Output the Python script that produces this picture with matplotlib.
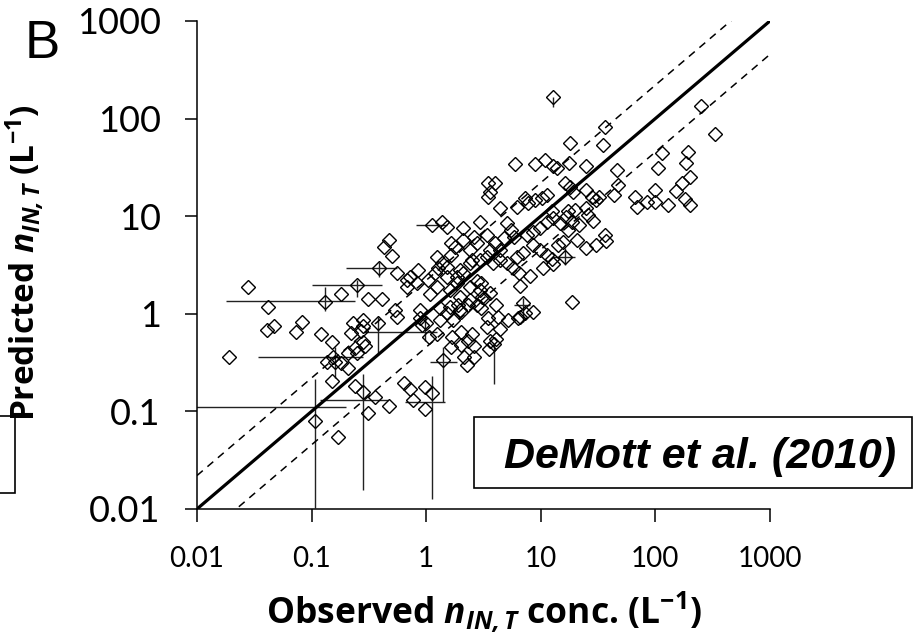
import matplotlib
matplotlib.use('Agg')
import matplotlib.pyplot as plt
import numpy as np
from matplotlib.patches import Rectangle
from matplotlib.ticker import FixedLocator, FixedFormatter, NullLocator

plt.rcParams['font.family'] = ['Lato', 'DejaVu Sans']
plt.rcParams['mathtext.fontset'] = 'custom'
plt.rcParams['mathtext.rm'] = 'Open Sans:bold'
plt.rcParams['mathtext.bf'] = 'Open Sans:bold'
plt.rcParams['mathtext.it'] = 'Open Sans:italic:bold'
plt.rcParams['mathtext.bfit'] = 'Open Sans:italic:bold'

# observed vs predicted IN number concentration (per litre)
obs = [0.019, 0.028, 0.042, 0.041, 0.047, 0.073, 0.082, 0.12, 0.15, 0.13, 0.18, 0.25,
       0.39, 0.47, 0.43, 0.50, 0.31, 0.41, 1.12, 1.37, 1.52, 0.56, 0.68, 0.85,
       0.38, 0.23, 0.28, 0.22, 0.27, 0.24, 0.29, 0.154, 0.135, 0.16, 0.15, 0.17,
       0.107, 0.28, 0.24, 0.36, 0.47, 0.31, 0.98, 1.12, 0.98, 0.77, 0.64, 0.72,
       0.92, 1.4, 0.21, 0.18, 0.28, 0.28, 0.25, 0.21, 0.53, 0.56,
       1.06, 1.24, 1.68, 1.66, 2.0, 2.0, 2.3, 2.5, 2.6, 2.15, 2.6, 2.25,
       3.9, 3.5, 3.6, 4.1, 3.4, 4.4,
       1.61, 2.0, 2.3, 3.0, 3.46, 4.2, 5.2, 6.3, 7.3, 8.5, 18.7, 0.88,
       1.0, 1.32, 1.52, 1.71, 1.97, 7.0, 6.6, 0.88, 1.32, 1.9, 2.8, 3.2,
       0.72, 0.68, 0.83, 1.04, 1.24, 1.19, 1.52, 1.52, 1.85, 1.97, 2.4, 2.95,
       3.4, 3.8, 4.4, 5.1, 5.7, 1.61, 1.97, 2.4, 2.95, 3.1, 3.6, 4.1,
       3.0, 6.5, 1.24, 1.66, 2.5, 1.26, 2.1, 2.4, 2.78, 1.85, 1.07,
       2.95, 2.1, 2.64, 3.4, 1.66, 1.37, 1.8, 2.1, 2.4, 2.78, 5.1, 5.5,
       5.9, 4.8, 4.0, 3.6, 4.4, 7.6, 8.6, 9.9, 11.3, 12.8, 14.6, 16.7,
       18.8, 21.6, 20.8, 25, 30.6, 36, 6.2, 7.0, 8.5, 9.9, 11.3, 12.5,
       14.1, 15.6, 17.2, 16.3, 10.5, 12.8, 8.0, 6.6, 37,
       5.96, 8.9, 10.9, 12.8, 13.9, 17.6, 25, 3.46, 4.0, 3.6, 3.46, 4.4,
       6.2, 7.75, 8.9, 10.2, 11.3, 16.3, 18, 19, 25, 28, 30.6, 32,
       46, 47, 44, 66, 69, 85, 99, 99, 105, 115, 12.8, 36,
       35, 18, 250, 330, 26, 28.5, 17.3, 12.5, 20, 25, 7.3,
       192, 185, 200, 170, 150, 180, 200, 130]
pred = [0.36, 1.88, 1.17, 0.68, 0.75, 0.65, 0.82, 0.62, 0.51, 1.32, 1.6, 1.97,
        2.95, 5.7, 4.8, 3.9, 1.42, 1.42, 8.1, 8.7, 7.7, 2.6, 2.2, 2.8,
        0.80, 0.80, 0.86, 0.63, 0.66, 0.45, 0.47, 0.36, 0.32, 0.32, 0.205, 0.055,
        0.080, 0.158, 0.18, 0.14, 0.114, 0.096, 0.178, 0.154, 0.105, 0.13, 0.195, 0.17,
        0.77, 0.34, 0.28, 0.31, 0.75, 0.51, 0.40, 0.40, 1.10, 0.92,
        0.58, 0.62, 0.58, 0.46, 0.65, 0.48, 0.53, 0.62, 0.47, 0.36, 0.36, 0.30,
        0.49, 0.44, 0.52, 0.55, 0.74, 0.70,
        1.17, 1.04, 1.23, 1.15, 0.90, 0.93, 0.86, 0.90, 1.02, 1.04, 1.32, 1.09,
        0.80, 0.86, 1.02, 0.86, 1.09, 1.29, 0.93, 0.90, 1.15, 1.22, 1.22, 1.45,
        2.4, 1.88, 2.07, 2.22, 1.88, 2.6, 3.0, 2.4, 2.4, 2.8, 3.3, 3.56,
        3.8, 3.3, 3.56, 3.3, 2.95, 1.75, 1.48, 1.38, 1.75, 1.48, 1.63, 1.22,
        2.07, 2.6, 3.8, 4.0, 3.56, 2.95, 2.6, 1.88, 2.15, 2.07, 1.6,
        8.7, 7.6, 6.1, 6.4, 5.3, 3.3, 4.85, 5.7, 4.5, 5.3, 8.5, 7.2,
        6.1, 6.0, 5.3, 4.5, 4.5, 6.4, 6.9, 7.6, 8.7, 9.6, 8.5, 9.8,
        8.7, 8.1, 5.7, 4.7, 5.1, 6.4, 3.8, 4.2, 5.1, 4.5, 4.0, 3.6,
        5.1, 5.5, 7.2, 3.8, 2.95, 3.2, 2.45, 1.93, 5.6,
        34, 34, 38, 33, 31, 35, 33, 22, 22, 17.7, 15.7, 12,
        12.4, 13.6, 14.6, 15.4, 16.5, 22, 20, 17.7, 18.5, 15.7, 14.6, 15.7,
        30, 21, 16.5, 15.7, 12.4, 14, 18.5, 14, 31, 44, 166, 82,
        54, 56, 134, 70, 10.3, 8.9, 11.3, 11.3, 11.5, 12, 15.4,
        45, 35, 25, 22, 18, 15, 13, 13]

# points carrying uncertainty bars: centre and lower/upper bounds
bar_obs = [0.13, 0.25, 0.39, 1.12, 0.16, 0.107, 0.28, 1.12, 0.38, 1.4, 3.9, 16.3, 7.0, 12.8, 0.98]
bar_pred = [1.36, 1.97, 2.95, 8.1, 0.36, 0.111, 0.13, 0.125, 0.65, 0.32, 0.49, 3.8, 1.22, 166, 0.73]
bar_obs_lo = [0.018, 0.10, 0.20, 0.82, 0.034, 0.005, 0.118, 0.65, 0.29, 1.08, 3.9, 12.8, 5.9, 12.8, 0.98]
bar_obs_hi = [0.24, 0.41, 0.56, 1.52, 0.28, 0.20, 0.46, 1.46, 1.24, 1.85, 3.9, 20, 8.0, 12.8, 0.98]
bar_pred_lo = [1.08, 1.48, 2.38, 8.1, 0.22, 0.0103, 0.0157, 0.0126, 0.40, 0.125, 0.19, 3.17, 0.82, 131, 0.53]
bar_pred_hi = [1.88, 2.22, 3.4, 8.1, 0.46, 0.215, 0.24, 0.23, 0.93, 0.46, 0.49, 4.7, 1.45, 166, 0.93]

lims = [0.01, 1000]
factor = 2.2
ticks = [0.01, 0.1, 1, 10, 100, 1000]
tick_labels = ['0.01', '0.1', '1', '10', '100', '1000']

fig = plt.figure(figsize=(9.14, 6.33), dpi=100)
ax = fig.add_axes([0.2155, 0.1959, 0.6269, 0.7710])

bx = np.array(bar_obs)
by = np.array(bar_pred)
xerr = [bx - np.array(bar_obs_lo), np.array(bar_obs_hi) - bx]
yerr = [by - np.array(bar_pred_lo), np.array(bar_pred_hi) - by]
ax.errorbar(bx, by, xerr=xerr, yerr=yerr, fmt='none', ecolor='#222222',
            elinewidth=1.0, capsize=0, zorder=2)

ax.plot(obs, pred, linestyle='none', marker='D', markersize=6.8,
        markerfacecolor='none', markeredgecolor='black', markeredgewidth=1.0, zorder=3)

lx = np.array(lims)
ax.plot(lx, lx, color='black', lw=2.3, zorder=4)
ax.plot(lx, lx * factor, color='black', lw=1.1, ls=(0, (5, 4)), zorder=4)
ax.plot(lx, lx / factor, color='black', lw=1.1, ls=(0, (5, 4)), zorder=4)

ax.set_xscale('log')
ax.set_yscale('log')
ax.set_xlim(lims)
ax.set_ylim(lims)
for axis in (ax.xaxis, ax.yaxis):
    axis.set_major_locator(FixedLocator(ticks))
    axis.set_major_formatter(FixedFormatter(tick_labels))
    axis.set_minor_locator(NullLocator())
ax.tick_params(direction='out', length=9, width=1.1)
ax.tick_params(axis='x', labelsize=20, pad=18)
ax.tick_params(axis='y', labelsize=26, pad=17)
ax.spines['top'].set_visible(False)
ax.spines['right'].set_visible(False)
for s in ('left', 'bottom'):
    ax.spines[s].set_linewidth(1.1)

ax.set_xlabel(r'Observed $\mathbfit{n}_{\mathbfit{IN,T}}$ conc. (L$^{\mathbf{-1}}$)',
              fontsize=25.5, family='Open Sans', fontweight='bold', va='top')
ax.xaxis.set_label_coords(0.5, -0.165)
ax.set_ylabel(r'Predicted $\mathbfit{n}_{\mathbfit{IN,T}}$ (L$^{\mathbf{-1}}$)',
              fontsize=24, family='Open Sans', fontweight='bold', va='center')
ax.yaxis.set_label_coords(-0.299, 0.505)

fig.text(0.027, 0.908, 'B', fontsize=38, family='Liberation Sans', ha='left', va='baseline')

# citation box, and the edge of a neighbouring box on the left
fig.patches.append(Rectangle((0.5186, 0.229), 0.4795, 0.112, transform=fig.transFigure,
                             fill=False, edgecolor='black', lw=1.2))
fig.text(0.766, 0.2607, 'DeMott et al. (2010)', fontsize=31, family='Liberation Sans',
         fontweight='bold', fontstyle='italic', ha='center', va='baseline')
fig.patches.append(Rectangle((-0.05, 0.221), 0.0664, 0.122, transform=fig.transFigure,
                             fill=False, edgecolor='black', lw=1.2))

fig.savefig('out.png', dpi=100)
